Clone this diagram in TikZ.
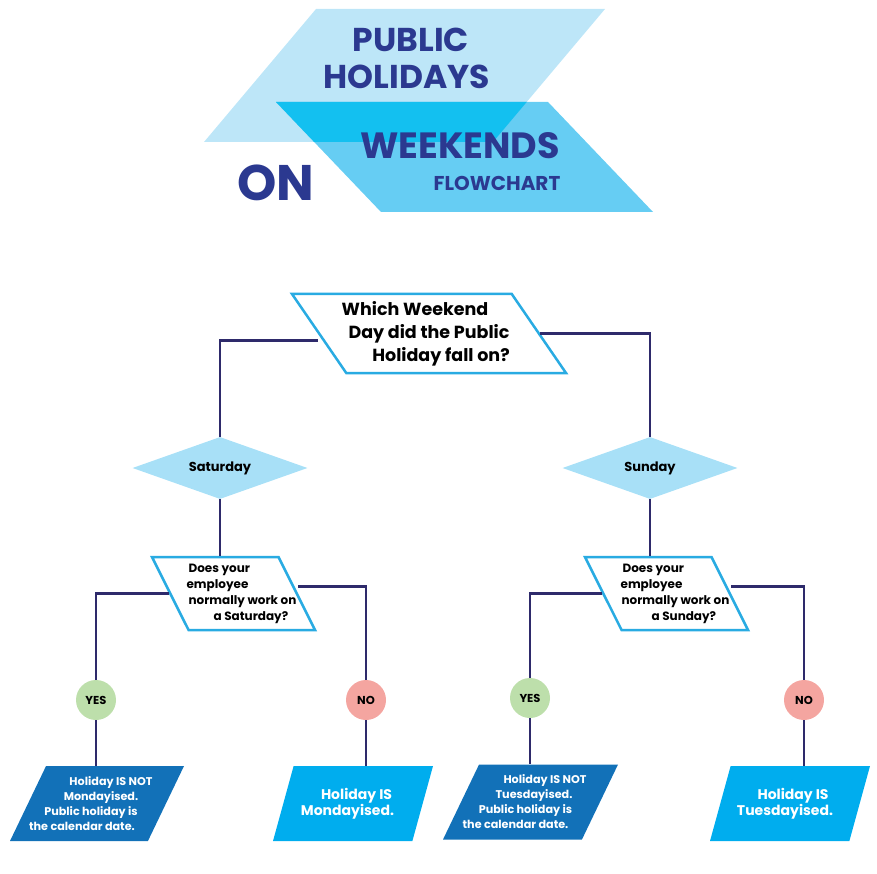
\documentclass[tikz,border=0pt]{standalone}
\usepackage{fontspec}
\setmainfont{Poppins}
\usetikzlibrary{shapes.geometric}
\definecolor{navy}{HTML}{2B3990}
\definecolor{linenavy}{HTML}{2E2A6B}
\definecolor{skylight}{HTML}{BDE6F8}
\definecolor{skymid}{HTML}{66CDF3}
\definecolor{skydeep}{HTML}{13C0F0}
\definecolor{qcyan}{HTML}{29ABE2}
\definecolor{dayblue}{HTML}{A8E0F7}
\definecolor{yesgreen}{HTML}{BDDFAB}
\definecolor{nored}{HTML}{F4A5A0}
\definecolor{resdark}{HTML}{1271B8}
\definecolor{reslight}{HTML}{00ADEE}

\begin{document}
\begin{tikzpicture}[x=1pt, y=-1pt,
    every node/.style={font=\bfseries},
    title/.style={text=navy, inner sep=0pt},
    question/.style={trapezium, trapezium stretches body, draw=qcyan, line width=2.5pt,
        fill=white, inner xsep=-25pt, inner ysep=0pt, align=center},
    workq/.style={question, trapezium left angle=121.5, trapezium right angle=58.5,
        minimum width=163pt, minimum height=73pt, align=left,
        font=\bfseries\fontsize{12}{16}\selectfont},
    daybox/.style={diamond, aspect=2.8, fill=dayblue, minimum width=175pt, minimum height=62pt,
        inner sep=0pt, font=\bfseries\fontsize{13}{15}\selectfont},
    answer/.style={circle, minimum size=40pt, inner sep=0pt,
        font=\bfseries\fontsize{11.5}{12}\selectfont},
    result/.style={trapezium, trapezium stretches body, trapezium left angle=56.3,
        trapezium right angle=123.7, minimum height=75pt, text=white,
        inner xsep=-25pt, inner ysep=0pt, align=center},
    link/.style={draw=linenavy, line width=2.5pt},
]
\useasboundingbox (0,0) rectangle (877,874);

% Title banner
\fill[skylight] (316,9) -- (605,9) -- (493,142) -- (204,142) -- cycle;
\fill[skymid] (276,102) -- (548,102) -- (653,212) -- (381,212) -- cycle;
\begin{scope}
  \clip (316,9) -- (605,9) -- (493,142) -- (204,142) -- cycle;
  \fill[skydeep] (276,102) -- (548,102) -- (653,212) -- (381,212) -- cycle;
\end{scope}
\node[title, font=\bfseries\fontsize{33}{33}\selectfont] (public) at (411,40) {PUBLIC};
\node[title, font=\bfseries\fontsize{33}{33}\selectfont] (holidays) at (407,77) {HOLIDAYS};
\node[title, font=\bfseries\fontsize{36.5}{36}\selectfont] (weekends) at (460,146) {WEEKENDS};
\node[title, font=\bfseries\fontsize{20}{20}\selectfont] (flowchart) at (497,183) {FLOWCHART};
\node[title, font=\bfseries\fontsize{50}{50}\selectfont] (on) at (276,183) {ON};

% Top question
\node[question, trapezium left angle=130, trapezium right angle=50, minimum width=274pt,
    minimum height=79pt, font=\bfseries\fontsize{17.5}{23}\selectfont] (start) at (429,333.5)
    {Which Weekend\hspace*{28pt}\mbox{}\\Day did the Public\\\hspace*{24pt}Holiday fall on?};

% Weekend days
\node[daybox] (sat) at (220,468) {Saturday};
\node[daybox] (sun) at (650,468) {Sunday};

% Does the employee work that day
\node[workq] (satq) at (233.5,593.5)
    {\hspace*{18pt}Does your\\\hspace*{16pt}employee\\\hspace*{18pt}normally work on\\\hspace*{43pt}a Saturday?};
\node[workq] (sunq) at (666.5,593.5)
    {\hspace*{19pt}Does your\\\hspace*{17pt}employee\\\hspace*{18pt}normally work on\\\hspace*{48pt}a Sunday?};

% Yes / no
\node[answer, fill=yesgreen] (satyes) at (96,700) {YES};
\node[answer, fill=nored] (satno) at (366,700) {NO};
\node[answer, fill=yesgreen] (sunyes) at (530,698) {YES};
\node[answer, fill=nored] (sunno) at (804,700) {NO};

% Outcomes
\node[result, fill=resdark, minimum width=174pt, font=\bfseries\fontsize{11.2}{15}\selectfont]
    (satkeep) at (97,803.5)
    {\hspace*{28pt}Holiday IS NOT\\\hspace*{8pt}Mondayised.\\Public holiday is\hspace*{12pt}\mbox{}\\the calendar date.\hspace*{30pt}\mbox{}};
\node[result, fill=reslight, minimum width=160pt, font=\bfseries\fontsize{14}{16}\selectfont]
    (satmove) at (353,803.5) {\hspace*{7pt}Holiday IS\\Mondayised.\hspace*{11pt}\mbox{}};
\node[result, fill=resdark, minimum width=175pt, font=\bfseries\fontsize{11.2}{15}\selectfont]
    (sunkeep) at (530.5,802)
    {\hspace*{29pt}Holiday IS NOT\\\hspace*{7pt}Tuesdayised.\\Public holiday is\hspace*{10pt}\mbox{}\\the calendar date.\hspace*{30pt}\mbox{}};
\node[result, fill=reslight, minimum width=160pt, font=\bfseries\fontsize{14}{16}\selectfont]
    (sunmove) at (790,803.5) {\hspace*{6pt}Holiday IS\\Tuesdayised.\hspace*{10pt}\mbox{}};

% Connectors
\draw[link] ([yshift=-7pt]start.west) -| (sat.north);
\draw[link] (start.east) -| (sun.north);
\draw[link] (sat.south) -- (sat.south |- satq.north);
\draw[link] (sun.south) -- (sun.south |- sunq.north);
\draw[link] (satq.west) -| (satyes.north);
\draw[link] ([yshift=7pt]satq.east) -| (satno.north);
\draw[link] (sunq.west) -| (sunyes.north);
\draw[link] ([yshift=7pt]sunq.east) -| (sunno.north);
\draw[link] (satyes.south) -- (satyes.south |- satkeep.north);
\draw[link] (satno.south) -- (satno.south |- satmove.north);
\draw[link] (sunyes.south) -- (sunyes.south |- sunkeep.north);
\draw[link] (sunno.south) -- (sunno.south |- sunmove.north);

\end{tikzpicture}
\end{document}
